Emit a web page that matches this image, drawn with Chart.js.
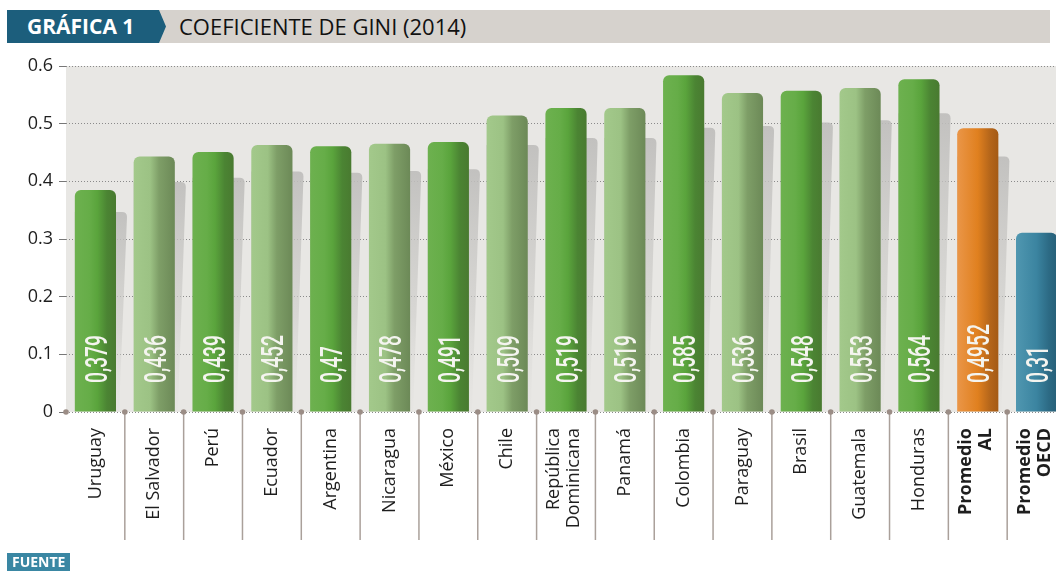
<!DOCTYPE html>
<html>
<head>
<meta charset="utf-8">
<script src="https://cdn.jsdelivr.net/npm/chart.js@4.4.1/dist/chart.umd.min.js"></script>
<style>
  html, body { margin: 0; padding: 0; background: #fff; width: 1056px; height: 572px; overflow: hidden; }
  #grafico { position: absolute; left: 0; top: 0; }
  .cab { position: absolute; top: 10px; height: 33px; line-height: 33px; font-family: 'Open Sans', sans-serif; white-space: nowrap; }
  #etiqueta { left: 7px; width: 164px; background: #1c5e7c; color: #fff; font-weight: bold; font-size: 21px; padding-left: 20px; box-sizing: border-box;
    clip-path: polygon(0 0, 156px 0, 163px 50%, 156px 100%, 0 100%); }
  #titulo { left: 159px; width: 891px; background: #d6d2cd; color: #111; font-size: 22px; padding-left: 20px; box-sizing: border-box;
    clip-path: polygon(0 0, 100% 0, 100% 100%, 0 100%, 7px 50%); }
  #fuente { position: absolute; left: 7px; top: 553px; height: 18px; line-height: 18px; padding: 0 5px; background: #3a87a3;
    color: #fff; font-family: 'Open Sans', sans-serif; font-weight: bold; font-size: 14px; }
</style>
</head>
<body>
<canvas id="grafico" width="1070" height="572" style="width:1070px;height:572px"></canvas>
<div class="cab" id="etiqueta">GRÁFICA 1</div>
<div class="cab" id="titulo">COEFICIENTE DE GINI (2014)</div>
<div id="fuente">FUENTE</div>

<script>
const paises = ['Uruguay', 'El Salvador', 'Perú', 'Ecuador', 'Argentina', 'Nicaragua', 'México', 'Chile',
  ['República', 'Dominicana'], 'Panamá', 'Colombia', 'Paraguay', 'Brasil', 'Guatemala', 'Honduras',
  ['Promedio', 'AL'], ['Promedio', 'OECD']];

// alturas de las barras tal como se ven en la gráfica
const gini = [0.385, 0.443, 0.451, 0.463, 0.461, 0.465, 0.468, 0.514, 0.527, 0.527, 0.584, 0.553, 0.557, 0.562, 0.577, 0.492, 0.311];

// textos dentro de cada barra
const etiquetasValor = ['0,379', '0,436', '0,439', '0,452', '0,47', '0,478', '0,491', '0,509', '0,519', '0,519',
  '0,585', '0,536', '0,548', '0,553', '0,564', '0,4952', '0,31'];

// sombra gris detrás de cada barra
const sombras = [0.347, 0.399, 0.406, 0.417, 0.415, 0.418, 0.421, 0.463, 0.475, 0.475, 0.493, 0.496, 0.502, 0.506, 0.518, 0.443, 0.28];

const tipoBarra = ['oscuro', 'claro', 'oscuro', 'claro', 'oscuro', 'claro', 'oscuro', 'claro', 'oscuro', 'claro',
  'oscuro', 'claro', 'oscuro', 'claro', 'oscuro', 'naranja', 'azul'];

const ticksY = ['0', '0.1', '0.2', '0.3', '0.4', '0.5', '0.6'];

const paletas = {
  oscuro: [[0, '#6db14f'], [0.35, '#66ad48'], [0.55, '#5aa43c'], [0.78, '#4b8433'], [1, '#497a30']],
  claro: [[0, '#a3c98b'], [0.4, '#9cc284'], [0.62, '#7e9e67'], [1, '#6c8957']],
  naranja: [[0, '#ea9648'], [0.5, '#e0801f'], [0.8, '#b4651a'], [1, '#a45a15']],
  azul: [[0, '#5097b0'], [0.5, '#3b84a0'], [0.8, '#2c6a84'], [1, '#275f78']]
};

const ANCHO_BARRA = 0.7;
const ALTO_LINEA = 20;

function relleno(context) {
  const chart = context.chart;
  const kind = tipoBarra[context.dataIndex] || 'oscuro';
  const stops = paletas[kind];
  if (!chart.chartArea) return stops[2][1];
  const xs = chart.scales.x;
  const cx = xs.getPixelForValue(context.dataIndex);
  const w = xs.width / paises.length * ANCHO_BARRA;
  const g = chart.ctx.createLinearGradient(cx - w / 2, 0, cx + w / 2, 0);
  stops.forEach(s => g.addColorStop(s[0], s[1]));
  return g;
}

const fondo = {
  id: 'fondo',
  beforeDraw(chart) {
    const { ctx, chartArea: a } = chart;
    ctx.save();
    ctx.fillStyle = '#e8e7e4';
    ctx.fillRect(a.left, a.top, a.right - a.left, a.bottom - a.top);
    ctx.restore();
    // centrar las etiquetas de dos líneas sobre su categoría
    chart.scales.x.getLabelItems().forEach(it => {
      if (Array.isArray(it.label) && it.label.length > 1) {
        it.options.translation[0] -= (it.label.length - 1) * ALTO_LINEA / 2 + 2;
      }
    });
  }
};

const sombra = {
  id: 'sombra',
  beforeDatasetsDraw(chart) {
    const { ctx } = chart;
    const ys = chart.scales.y;
    const base = ys.getPixelForValue(0);
    chart.getDatasetMeta(0).data.forEach((bar, i) => {
      const top = ys.getPixelForValue(sombras[i]);
      const left = bar.x - bar.width / 2;
      const right = bar.x + bar.width / 2;
      const g = ctx.createLinearGradient(0, top, 0, base);
      g.addColorStop(0, 'rgba(190,189,187,0.9)');
      g.addColorStop(0.6, 'rgba(205,204,201,0.6)');
      g.addColorStop(1, 'rgba(225,224,221,0.2)');
      ctx.save();
      ctx.fillStyle = g;
      ctx.beginPath();
      ctx.moveTo(left, base);
      ctx.lineTo(left, top);
      ctx.lineTo(right + 6, top);
      ctx.quadraticCurveTo(right + 11, top, right + 11, top + 5);
      ctx.lineTo(right + 3, base);
      ctx.closePath();
      ctx.fill();
      ctx.restore();
    });
  }
};

const valores = {
  id: 'valores',
  afterDatasetsDraw(chart) {
    const { ctx } = chart;
    const base = chart.scales.y.getPixelForValue(0);
    chart.getDatasetMeta(0).data.forEach((bar, i) => {
      ctx.save();
      ctx.translate(bar.x + 11.5, base - 29);
      ctx.rotate(-Math.PI / 2);
      ctx.scale(0.6, 1);
      ctx.font = '500 32px Roboto, "Liberation Sans", sans-serif';
      ctx.fillStyle = '#f4f4ef';
      ctx.textAlign = 'left';
      ctx.textBaseline = 'alphabetic';
      ctx.fillText(etiquetasValor[i], 0, 0);
      ctx.restore();
    });
  }
};

const separadores = {
  id: 'separadores',
  afterDraw(chart) {
    const { ctx } = chart;
    const xs = chart.scales.x;
    const y0 = chart.scales.y.getPixelForValue(0);
    const paso = xs.width / paises.length;
    ctx.save();
    for (let i = 0; i < paises.length; i++) {
      const bx = xs.getPixelForValue(i) - paso / 2;
      if (i > 0) {
        ctx.strokeStyle = '#aaa09a';
        ctx.lineWidth = 1.5;
        ctx.beginPath();
        ctx.moveTo(bx, y0);
        ctx.lineTo(bx, y0 + 128);
        ctx.stroke();
      }
      ctx.fillStyle = '#9b8d86';
      ctx.beginPath();
      ctx.arc(bx, y0, 2.8, 0, Math.PI * 2);
      ctx.fill();
    }
    ctx.restore();
  }
};

new Chart(document.getElementById('grafico').getContext('2d'), {
  type: 'bar',
  data: {
    labels: paises,
    datasets: [{
      data: gini,
      backgroundColor: relleno,
      borderWidth: 0,
      borderSkipped: false,
      borderRadius: { topLeft: 6, topRight: 6, bottomLeft: 0, bottomRight: 0 },
      barPercentage: ANCHO_BARRA,
      categoryPercentage: 1
    }]
  },
  options: {
    responsive: false,
    animation: false,
    events: [],
    layout: { padding: { top: 66, right: 4, bottom: 0, left: 0 } },
    plugins: { legend: { display: false }, tooltip: { enabled: false } },
    scales: {
      x: {
        grid: { display: false, drawTicks: false },
        border: { display: false },
        ticks: {
          autoSkip: false,
          minRotation: 90,
          maxRotation: 90,
          padding: 16,
          color: '#1e1e1e',
          font: c => ({ family: 'Open Sans', size: 18, weight: c.index >= 15 ? 'bold' : 'normal', lineHeight: ALTO_LINEA + 'px' })
        },
        afterFit(s) { s.height = 160; s.paddingLeft = 0; s.paddingRight = 0; }
      },
      y: {
        min: 0,
        max: 0.6,
        grid: { color: '#8a8a8a', lineWidth: 1, tickLength: 7, tickColor: '#777', tickBorderDash: [] },
        border: { display: false, dash: [1, 2] },
        ticks: {
          stepSize: 0.1,
          padding: 6,
          color: '#1e1e1e',
          font: { family: 'Open Sans', size: 18 },
          callback: v => ticksY[Math.round(v * 10)]
        },
        afterFit(s) { s.width = 66; s.paddingTop = 0; s.paddingBottom = 0; }
      }
    }
  },
  plugins: [fondo, sombra, valores, separadores]
});
</script>
</body>
</html>
